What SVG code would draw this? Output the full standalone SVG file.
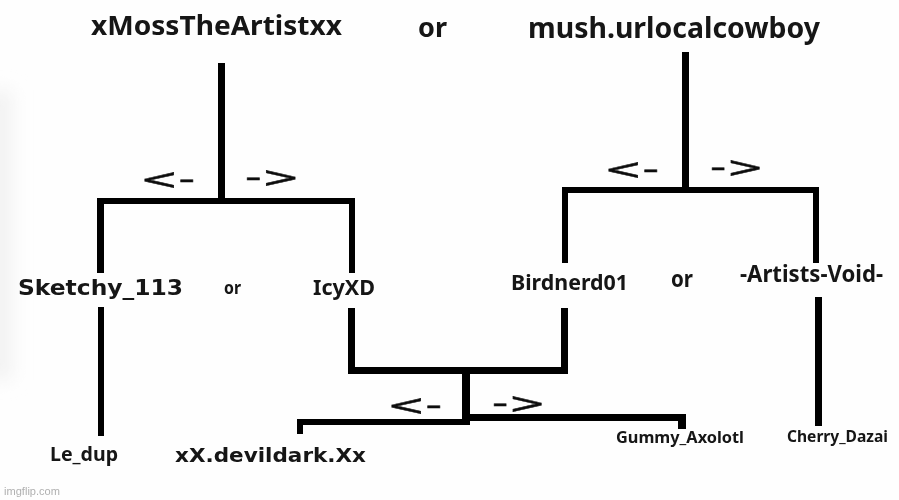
<svg xmlns="http://www.w3.org/2000/svg" width="899" height="500" viewBox="0 0 899 500">
<style>
text{fill:#141414;font-family:"Noto Sans","DejaVu Sans",sans-serif;font-weight:700}
.d{font-family:"DejaVu Sans",sans-serif;font-weight:700}
.a{font-family:"DejaVu Sans",sans-serif;font-weight:400;fill:#111;stroke:#111;stroke-width:.5;font-size:29px}
.w{font-family:"Liberation Sans",sans-serif;font-weight:400;fill:#b0b0b0;font-size:11px}
.c{fill:#060606}
</style>
<defs>
<filter id="soft" x="-5%" y="-5%" width="110%" height="110%"><feGaussianBlur stdDeviation="0.45"/></filter>
<filter id="softer" x="-300%" y="-30%" width="700%" height="160%"><feGaussianBlur stdDeviation="9"/></filter>
</defs>
<rect width="899" height="500" fill="#fefefe"/>
<rect x="-14" y="90" width="26" height="290" fill="#f2f2f2" filter="url(#softer)"/>
<g filter="url(#soft)">
<g id="connectors" class="c">
<rect x="218" y="63" width="7" height="136"/>
<rect x="97" y="198" width="258" height="6"/>
<rect x="97" y="198" width="7" height="75"/>
<rect x="349" y="198" width="6" height="75"/>
<rect x="98" y="307" width="6" height="129"/>
<rect x="348" y="308" width="7" height="66"/>
<rect x="348" y="367" width="220" height="7"/>
<rect x="561" y="308" width="7" height="66"/>
<rect x="682" y="52" width="7" height="137"/>
<rect x="562" y="187" width="257" height="6"/>
<rect x="562" y="187" width="6" height="76"/>
<rect x="813" y="187" width="6" height="76"/>
<rect x="815" y="297" width="7" height="129"/>
<rect x="462" y="374" width="8" height="51"/>
<rect x="297" y="419" width="169" height="6"/>
<rect x="297" y="419" width="6" height="15"/>
<rect x="466" y="414" width="220" height="7"/>
<rect x="678" y="414" width="8" height="15"/>
</g>
<g id="arrows">
<text class="a" x="140" y="189" textLength="55" lengthAdjust="spacingAndGlyphs">&lt;-</text>
<text class="a" x="245" y="187" textLength="55" lengthAdjust="spacingAndGlyphs">-&gt;</text>
<text class="a" x="604" y="179" textLength="55" lengthAdjust="spacingAndGlyphs">&lt;-</text>
<text class="a" x="710" y="177" textLength="54" lengthAdjust="spacingAndGlyphs">-&gt;</text>
<text class="a" x="387" y="415" textLength="55" lengthAdjust="spacingAndGlyphs">&lt;-</text>
<text class="a" x="492" y="413" textLength="54" lengthAdjust="spacingAndGlyphs">-&gt;</text>
</g>
<g id="xMossTheArtistxx"><text x="91" y="35" font-size="27" textLength="251" lengthAdjust="spacingAndGlyphs">xMossTheArtistxx</text></g>
<g id="or-top"><text x="418" y="37" font-size="27" textLength="29" lengthAdjust="spacingAndGlyphs">or</text></g>
<g id="mush-urlocalcowboy"><text x="528" y="38" font-size="28" textLength="292" lengthAdjust="spacingAndGlyphs">mush.urlocalcowboy</text></g>
<g id="Sketchy_113"><text class="d" x="18" y="295" font-size="21" textLength="165" lengthAdjust="spacingAndGlyphs">Sketchy_113</text></g>
<g id="or-left"><text x="224" y="294" font-size="18" textLength="17" lengthAdjust="spacingAndGlyphs">or</text></g>
<g id="IcyXD"><text x="313" y="295" font-size="21" textLength="62" lengthAdjust="spacingAndGlyphs">IcyXD</text></g>
<g id="Birdnerd01"><text x="511" y="290" font-size="22" textLength="117" lengthAdjust="spacingAndGlyphs">Birdnerd01</text></g>
<g id="or-right"><text x="671" y="287" font-size="23" textLength="22" lengthAdjust="spacingAndGlyphs">or</text></g>
<g id="Artists-Void"><text x="740" y="282" font-size="23" textLength="143" lengthAdjust="spacingAndGlyphs">-Artists-Void-</text></g>
<g id="Le_dup"><text x="50" y="461" font-size="19" textLength="68" lengthAdjust="spacingAndGlyphs">Le_dup</text></g>
<g id="xX-devildark-Xx"><text class="d" x="175" y="462" font-size="20" textLength="191" lengthAdjust="spacingAndGlyphs">xX.devildark.Xx</text></g>
<g id="Gummy_Axolotl"><text x="616" y="443" font-size="16" textLength="128" lengthAdjust="spacingAndGlyphs">Gummy_Axolotl</text></g>
<g id="Cherry_Dazai"><text x="787" y="442" font-size="16" textLength="101" lengthAdjust="spacingAndGlyphs">Cherry_Dazai</text></g>
<text class="w" x="4" y="495" textLength="56" lengthAdjust="spacingAndGlyphs">imgflip.com</text>
</g>
</svg>
